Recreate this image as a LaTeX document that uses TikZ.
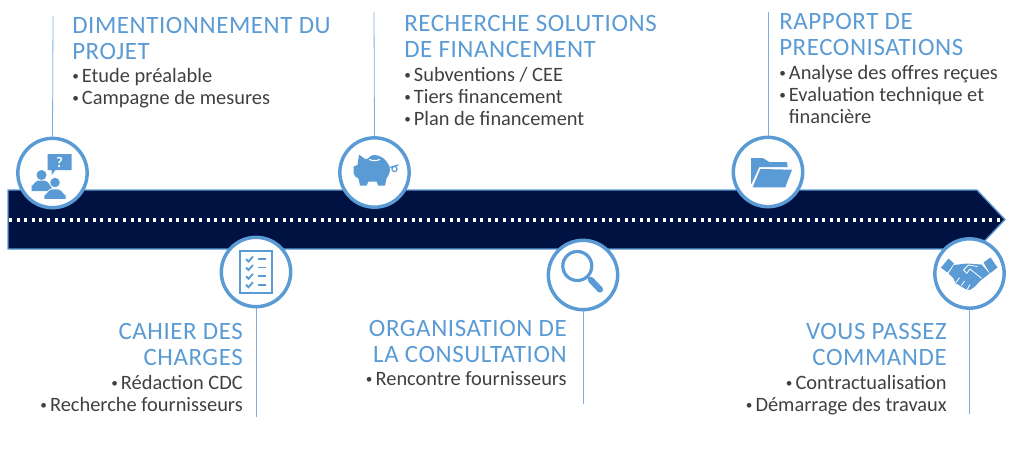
\documentclass[tikz,border=0pt]{standalone}
\usepackage{fontspec}
\setmainfont{Carlito}
\usepackage{tikz}
\usetikzlibrary{positioning}
\definecolor{iconblue}{RGB}{91,155,213}
\definecolor{navyband}{RGB}{0,18,66}
\definecolor{bodygrey}{RGB}{64,64,64}
\newcommand{\smallbul}{\raisebox{0.12em}{\scalebox{0.65}{•}}\hspace{0.15em}}
\tikzset{
    stepcircle/.style={
        circle,
        draw=iconblue,
        line width=2.6pt,
        fill=white,
        minimum size=52pt,
        inner sep=0pt
    },
    % stem between a circle and its text
    stemline/.style={
        line width=0.6pt,
        iconblue!80
    },
    headtext/.style={
        text=iconblue,
        inner sep=0pt,
        font=\fontsize{18.7}{19.5}\selectfont\addfontfeatures{LetterSpace=2.3}
    },
    listtext/.style={
        text=bodygrey,
        inner sep=0pt,
        font=\fontsize{15.3}{16.5}\selectfont
    },
    iconcut/.style={
        white,
        line width=0.6pt
    }
}

\begin{document}
\begin{tikzpicture}[x=0.75pt,y=-0.75pt]
	\useasboundingbox (0,0) rectangle (1024,469);

	% band
	\draw[line width=1pt,draw=iconblue,fill=navyband] (8,190) -- (977,190) -- (1005,219.5) -- (977,249) -- (8,249) -- cycle;
	\draw[white,line width=2.3pt,dash pattern=on 2.3pt off 3.4pt] (9,220) -- (1003,220);

	% free ends of the stems
	\path
	(53,16) coordinate (e1)
	(256,417) coordinate (e2)
	(374,12) coordinate (e3)
	(583,404) coordinate (e4)
	(768,12) coordinate (e5)
	(969.5,414) coordinate (e6);

	\node[stepcircle] (c1) at (52.5,173) {};
	\node[stepcircle] (c2) at (256,272) {};
	\node[stepcircle] (c3) at (374.5,172.5) {};
	\node[stepcircle] (c4) at (583,275) {};
	\node[stepcircle] (c5) at (768,172) {};
	\node[stepcircle] (c6) at (969.5,273.5) {};

	\draw[stemline] (c1.north) -- (e1);
	\draw[stemline] (c2.south) -- (e2);
	\draw[stemline] (c3.north) -- (e3);
	\draw[stemline] (c4.south) -- (e4);
	\draw[stemline] (c5.north) -- (e5);
	\draw[stemline] (c6.south) -- (e6);

	% people
	\begin{scope}[shift={(c1)}]
		\fill[iconblue] (-5,-19) -- (19,-19) -- (19,-3) -- (3,-3) -- (-1,2) -- (-1,-3) -- (-5,-3) -- cycle;
		\node[inner sep=0pt,text=white,font=\bfseries\fontsize{11}{12}\selectfont] (q1) at (7,-10.5) {?};
		\fill[iconblue] (-11,2) circle (5);
		\fill[iconblue] (-21,18) -- (-21,12) to[out=-90,in=180] (-14,7.5) -- (-8,7.5) to[out=0,in=-90] (-1,12) -- (-1,18) -- cycle;
		\fill[iconblue,draw=white,line width=0.6pt] (2.5,9.5) circle (5.3);
		\fill[iconblue,draw=white,line width=0.6pt] (-8.5,26.5) -- (-8.5,21) to[out=-90,in=180] (-1,16) -- (6,16) to[out=0,in=-90] (13.5,21) -- (13.5,26.5) -- cycle;
	\end{scope}

	% checklist
	\begin{scope}[shift={(c2)}]
		\draw[iconblue,line width=2.1pt] (-16,-21) rectangle (16,21);
		\foreach \yy in {-13,-4.5,4.3,12.7}{
			\draw[iconblue,line width=1.4pt] (-10,\yy) -- (-7.5,\yy+2.5) -- (-3,\yy-2.5);
			\draw[iconblue,line width=1.4pt] (1.5,\yy) -- (10,\yy);
		}
	\end{scope}

	% piggy bank
	\begin{scope}[shift={(c3)}]
		\fill[iconblue] (-15.5,-18) -- (-9.5,-13.5) to[out=-20,in=180] (-1,-17.5) to[out=0,in=130] (12,-11)
		to[out=-50,in=90] (15.5,-2.5) to[out=-90,in=60] (12,6) -- (10.5,13) -- (3.8,13) -- (2,9) -- (-6,9) -- (-8,13) -- (-14.5,13) -- (-16,6)
		to[out=170,in=-60] (-21,0.8) -- (-21,-6) -- (-17,-7.5) -- cycle;
		\draw[white,line width=0.8pt] (-5.5,-13) to[out=-20,in=200] (5.5,-13);
		\draw[iconblue,line width=0.9pt] (15,-5) -- (24,-7.5);
		\draw[iconblue,line width=0.9pt] (20,-3.5) circle (2.6);
	\end{scope}

	% magnifier
	\begin{scope}[shift={(c4)}]
		\draw[iconblue,line width=2.4pt] (-5.7,-9) circle (14.5);
		\draw[iconblue,line width=1.6pt] (4.5,1.5) -- (8,5);
		\draw[iconblue,line width=4.6pt,line cap=round] (8,5) -- (17,14.5);
	\end{scope}

	% folder
	\begin{scope}[shift={(c5)}]
		\fill[iconblue] (-17,-14) -- (-5.3,-14) -- (1.3,-10) -- (19,-10) -- (19.7,-5) -- (-8.7,-5) -- (-17,12.7) -- cycle;
		\fill[iconblue] (-7.7,-3) -- (24,-2.3) -- (17.3,15.3) -- (-15.3,15.3) -- cycle;
	\end{scope}

	% handshake
	\begin{scope}[shift={(c6)}]
		\fill[iconblue] (-28.5,-5.8) -- (-21,-15) -- (-15.5,-10) -- (-22,-1) -- cycle;
		\fill[iconblue] (14,-11) -- (21,-16) -- (28,-6) -- (20.5,-0.2) -- cycle;
		\fill[iconblue] (-15.5,-8.5) -- (-3,-10) -- (12,-9) -- (20,0) -- (10.5,7.5) -- (5.5,13) -- (0.5,16.5)
		-- (-4,15.5) -- (-14,9.5) -- (-16,5) -- (-21,0) -- cycle;
		\draw[iconcut] (-6,-3.5) -- (-1,-8.5) -- (8,-7);
		\draw[iconcut] (-6,-3.5) -- (-2.8,-0.2) -- (0.5,-4.5) -- (12,4.8);
		\draw[iconcut] (-13.5,8.8) -- (-10,4.2);
		\draw[iconcut] (-8,12) -- (-5,7.5);
		\draw[iconcut] (-2,15.5) -- (0.5,11);
	\end{scope}

	% texts
	\node[headtext,anchor=north west,align=left] (h1) at (72,17) {DIMENTIONNEMENT DU\\PROJET};
	\node[listtext,anchor=north west,align=left] (l1) at (72,68.5) {\smallbul Etude préalable\\\smallbul Campagne de mesures};

	\node[headtext,anchor=north east,align=right] (h2) at (243,323) {CAHIER DES\\CHARGES};
	\node[listtext,anchor=north east,align=right] (l2) at (243,375.5) {\smallbul Rédaction CDC\\\smallbul Recherche fournisseurs};

	\node[headtext,anchor=north west,align=left] (h3) at (404,15) {RECHERCHE SOLUTIONS\\DE FINANCEMENT};
	\node[listtext,anchor=north west,align=left] (l3) at (404,67.5) {\smallbul Subventions / CEE\\\smallbul Tiers financement\\\smallbul Plan de financement};

	\node[headtext,anchor=north east,align=right] (h4) at (567,320) {ORGANISATION DE\\LA CONSULTATION};
	\node[listtext,anchor=north east,align=right] (l4) at (567,371.5) {\smallbul Rencontre fournisseurs};

	\node[headtext,anchor=north west,align=left] (h5) at (779,13) {RAPPORT DE\\PRECONISATIONS};
	\node[listtext,anchor=north west,align=left] (l5) at (779,65.5) {\smallbul Analyse des offres reçues\\\smallbul Evaluation technique et\\\phantom{\smallbul }financière};

	\node[headtext,anchor=north east,align=right] (h6) at (947,323) {VOUS PASSEZ\\COMMANDE};
	\node[listtext,anchor=north east,align=right] (l6) at (947,375.5) {\smallbul Contractualisation\\\smallbul Démarrage des travaux};
\end{tikzpicture}
\end{document}
